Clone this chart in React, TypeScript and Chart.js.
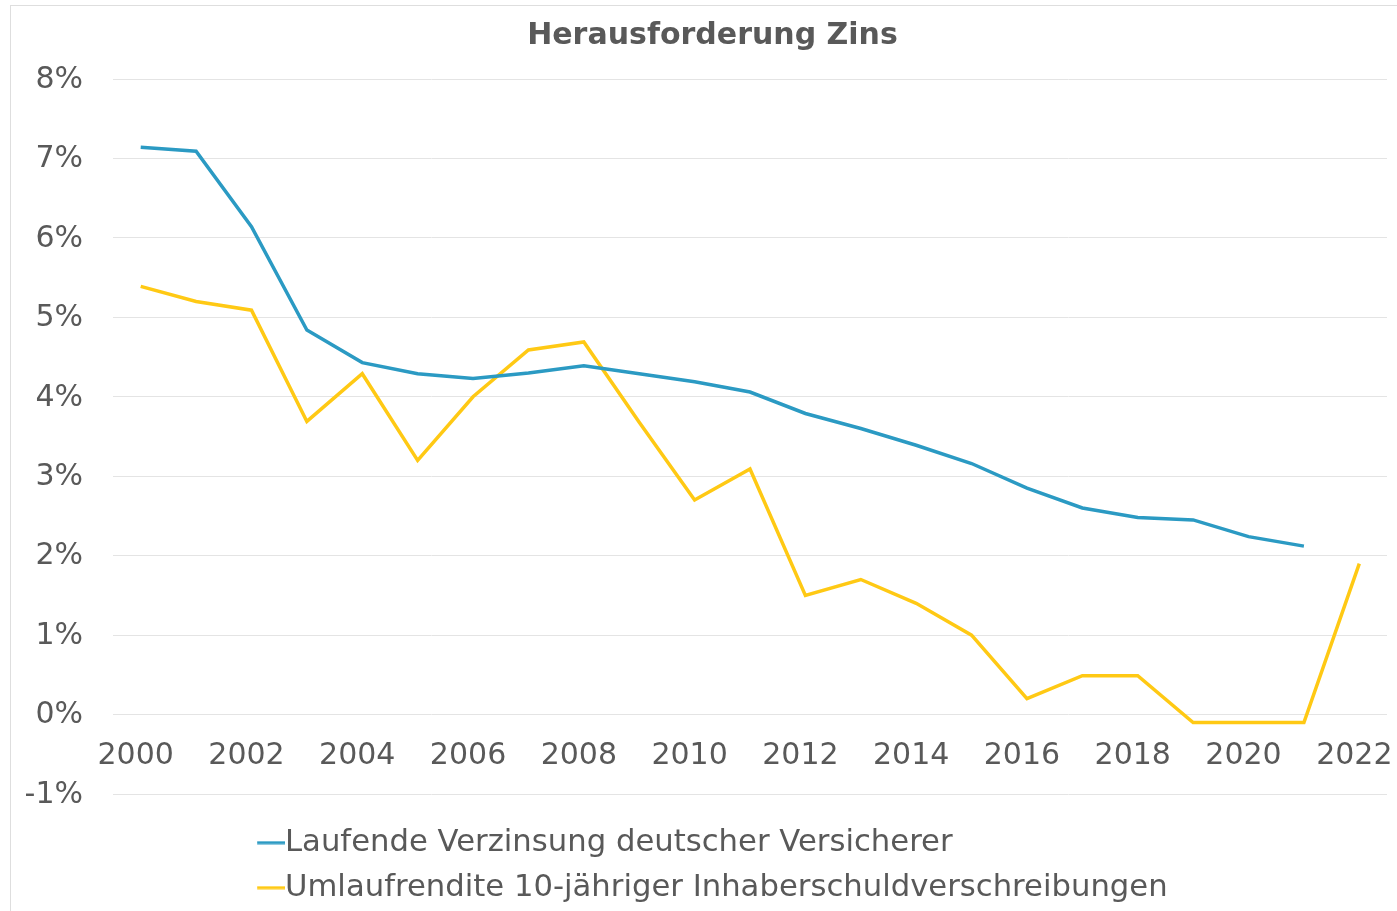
import React, { useEffect, useRef } from 'react';
import { Chart, registerables } from 'chart.js';

Chart.register(...registerables);

const chartTitle = 'Herausforderung Zins';
const years = ['2000', '2001', '2002', '2003', '2004', '2005', '2006', '2007', '2008', '2009', '2010', '2011', '2012', '2013', '2014', '2015', '2016', '2017', '2018', '2019', '2020', '2021', '2022'];
const laufendeVerzinsung = [7.14, 7.09, 6.14, 4.84, 4.43, 4.29, 4.23, 4.30, 4.39, 4.29, 4.19, 4.06, 3.79, 3.60, 3.39, 3.16, 2.85, 2.60, 2.48, 2.45, 2.24, 2.12, null];
const umlaufrendite = [5.39, 5.20, 5.09, 3.69, 4.29, 3.20, 4.00, 4.59, 4.69, 3.68, 2.70, 3.09, 1.50, 1.70, 1.40, 1.00, 0.20, 0.49, 0.49, -0.10, -0.10, -0.10, 1.90];
const seriesNames = ['Laufende Verzinsung deutscher Versicherer', 'Umlaufrendite 10-jähriger Inhaberschuldverschreibungen'];
const seriesColors = ['#2B9AC3', '#FFC914'];
const yMin = -1;
const yMax = 8;
const yStep = 1;

const TEXT = '#595959';
const FONT = "'DejaVu Sans', Verdana, sans-serif";
const LEGEND_FONT = 30.7;
const LEGEND_PAD = 14.3;
const LEGEND_BOX = 10;
const LEGEND_TEXT_X = 274; // canvas x where legend text starts

function makeMarker(color: string): HTMLCanvasElement {
  const c = document.createElement('canvas');
  const half = LEGEND_FONT / 2;
  c.width = Math.round(LEGEND_BOX + 2 * half);
  c.height = 4;
  const ctx = c.getContext('2d')!;
  ctx.fillStyle = color;
  ctx.fillRect(c.width - 28, 0.5, 28, 3);
  return c;
}

export default function App() {
  const ref = useRef<HTMLCanvasElement | null>(null);

  useEffect(() => {
    if (!ref.current) return;
    const markers = seriesColors.map(makeMarker);
    const layoutTweaks = {
      id: 'layoutTweaks',
      afterLayout(chart: any) {
        const lg = chart.legend;
        if (lg) {
          const w = lg.right - lg.left;
          const left = LEGEND_TEXT_X - LEGEND_FONT / 2 - LEGEND_BOX - LEGEND_PAD;
          lg.left = left;
          lg.right = left + w;
        }
        // let the y tick labels (e.g. "-1%") extend to the canvas edge without being clipped
        if (chart.scales.y) chart.scales.y.left = 0;
      },
    };
    const chart = new Chart(ref.current, {
      type: 'line',
      data: {
        labels: years,
        datasets: [
          {
            label: seriesNames[0],
            data: laufendeVerzinsung,
            borderColor: seriesColors[0],
            backgroundColor: seriesColors[0],
            borderWidth: 3.5,
            pointRadius: 0,
            tension: 0,
          },
          {
            label: seriesNames[1],
            data: umlaufrendite,
            borderColor: seriesColors[1],
            backgroundColor: seriesColors[1],
            borderWidth: 3.5,
            pointRadius: 0,
            tension: 0,
          },
        ],
      },
      options: {
        animation: false,
        responsive: false,
        devicePixelRatio: 1,
        events: [],
        layout: { padding: { left: 27, right: 54, top: 0, bottom: 0 } },
        font: { family: FONT },
        plugins: {
          title: {
            display: true,
            text: chartTitle,
            color: TEXT,
            font: { family: FONT, size: 30, weight: 'bold' },
            padding: { top: 12, bottom: 25 },
          },
          legend: {
            display: true,
            position: 'bottom',
            align: 'start',
            title: {
              display: true,
              text: ' ',
              font: { family: FONT, size: 10 },
              padding: { top: 0, bottom: 7, left: 0, right: 0 },
            },
            labels: {
              color: TEXT,
              font: { family: FONT, size: LEGEND_FONT },
              usePointStyle: true,
              pointStyleWidth: LEGEND_BOX,
              padding: LEGEND_PAD,
              generateLabels(chart: any) {
                const items = Chart.defaults.plugins.legend.labels.generateLabels(chart);
                return items.map((it: any, i: number) => ({ ...it, pointStyle: markers[i] }));
              },
            },
          },
          tooltip: { enabled: false },
        },
        scales: {
          x: {
            type: 'category',
            position: { y: 0 } as any,
            offset: true,
            grid: { display: false, drawTicks: false },
            border: { display: false },
            ticks: {
              autoSkip: false,
              maxRotation: 0,
              minRotation: 0,
              padding: 24,
              labelOffset: -5,
              color: TEXT,
              font: { family: FONT, size: 30 },
              callback: (_v: any, i: number) => (i % 2 === 0 ? years[i] : ''),
            },
          },
          y: {
            min: yMin,
            max: yMax,
            afterFit(s: any) {
              s.width = 75;
            },
            grid: { color: '#e4e4e4', lineWidth: 1, drawTicks: false },
            border: { display: false },
            ticks: {
              stepSize: yStep,
              padding: 30,
              labelOffset: 1,
              color: TEXT,
              font: { family: FONT, size: 30 },
              callback: (v: any) => `${v}%`,
            },
          },
        },
      },
      plugins: [layoutTweaks],
    } as any);
    return () => chart.destroy();
  }, []);

  return (
    <div style={{ position: 'fixed', left: 0, top: 0, width: 1397, height: 911, overflow: 'hidden', background: '#fff' }}>
      <div style={{ position: 'absolute', left: 10, top: 5, width: 1440, height: 940, border: '1px solid #dedede', boxSizing: 'border-box' }} />
      <div style={{ position: 'absolute', left: 11, top: 6, width: 1430, height: 907 }}>
        <canvas ref={ref} width={1430} height={907} style={{ display: 'block' }} />
      </div>
    </div>
  );
}
